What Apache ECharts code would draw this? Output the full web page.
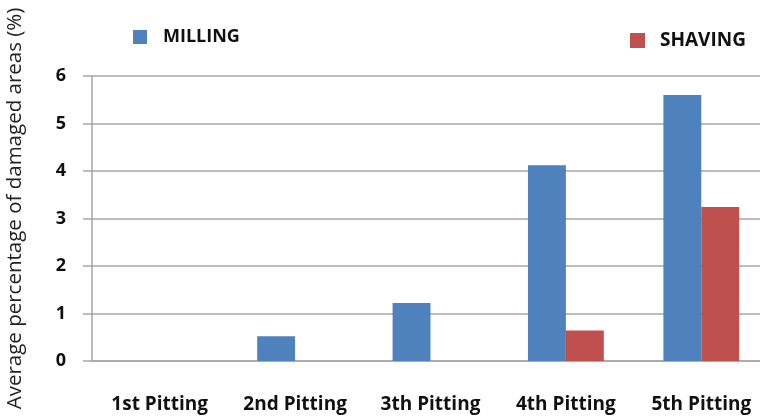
<!DOCTYPE html>
<html>
<head>
<meta charset="utf-8">
<script src="https://cdn.jsdelivr.net/npm/echarts@6/dist/echarts.min.js"></script>
<style>
  html, body { margin: 0; padding: 0; background: #ffffff; }
  #chart { width: 760px; height: 419px; }
</style>
</head>
<body>
<div id="chart"></div>
<script>
// Pitting stages along the x axis
const stages = ['1st Pitting', '2nd Pitting', '3th Pitting', '4th Pitting', '5th Pitting'];
// Average percentage of damaged areas (%) per process
const milling = [0, 0.52, 1.22, 4.12, 5.6];
const shaving = [0, 0, 0, 0.64, 3.24];
// Value axis range
const yMin = 0;
const yMax = 6;
const yStep = 1;

const font = '"Open Sans", "Liberation Sans", sans-serif';
const gridGray = '#a6a6a6';
const ink = '#111111';

const chart = echarts.init(document.getElementById('chart'), null, { renderer: 'canvas' });

chart.setOption({
  animation: false,
  backgroundColor: '#ffffff',
  textStyle: { fontFamily: font },
  legend: [
    {
      data: ['MILLING'],
      left: 133, top: 28, padding: 0,
      itemWidth: 14, itemHeight: 14, icon: 'rect',
      textStyle: { fontFamily: font, fontSize: 18, fontWeight: 'bold', color: ink, padding: [0, 0, 0, 11] }
    },
    {
      data: ['SHAVING'],
      left: 630, top: 31, padding: 0,
      itemWidth: 15, itemHeight: 15, icon: 'rect',
      textStyle: { fontFamily: font, fontSize: 19, fontWeight: 'bold', color: ink, padding: [0, 0, 0, 10] }
    }
  ],
  // plot area runs a little past the right edge of the canvas
  grid: { left: 92, top: 76, width: 677, height: 285, containLabel: false, outerBoundsMode: 'none' },
  xAxis: {
    type: 'category',
    data: stages,
    axisLine: { show: true, lineStyle: { color: gridGray, width: 1.5 } },
    axisTick: { show: false },
    axisLabel: {
      margin: 34,
      fontFamily: font, fontSize: 19, fontWeight: 'bold', color: ink,
      interval: 0
    }
  },
  yAxis: {
    type: 'value',
    min: yMin, max: yMax, interval: yStep,
    name: 'Average percentage of damaged areas (%)',
    nameLocation: 'middle',
    nameGap: 66,
    nameTextStyle: { fontFamily: font, fontSize: 20.5, color: '#222222', padding: [0, 0, 0, 20] },
    axisLine: { show: true, lineStyle: { color: gridGray, width: 1.5 } },
    axisTick: { show: true, inside: false, length: 9, lineStyle: { color: gridGray, width: 1.5 } },
    axisLabel: { margin: 26, fontFamily: font, fontSize: 18, fontWeight: 'bold', color: ink },
    splitLine: { show: true, lineStyle: { color: gridGray, width: 1.5 } }
  },
  series: [
    {
      name: 'MILLING',
      type: 'bar',
      data: milling,
      barWidth: '28%',
      barGap: '0%',
      itemStyle: { color: '#4f81bd' }
    },
    {
      name: 'SHAVING',
      type: 'bar',
      data: shaving,
      barWidth: '28%',
      barGap: '0%',
      itemStyle: { color: '#c0504d' }
    }
  ]
});
</script>
</body>
</html>
